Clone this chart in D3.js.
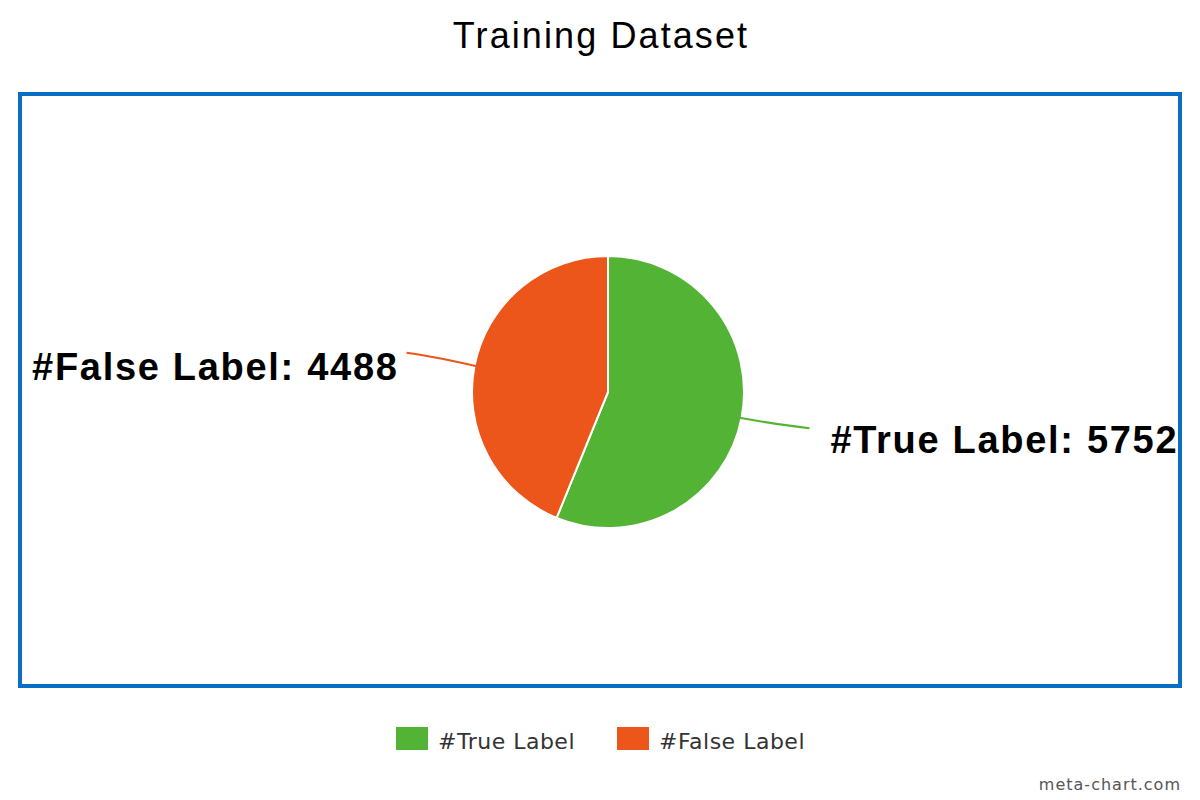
<!DOCTYPE html>
<html><head><meta charset="utf-8">
<script src="https://cdn.jsdelivr.net/npm/d3@7"></script>
<style>body{margin:0;background:#fff}svg{display:block}</style>
</head><body>
<script>
const categories = ["#True Label", "#False Label"];
const values = [5752, 4488];
const colors = ["#52b334", "#ec561b"];
const title = "Training Dataset";

const W = 1200, H = 800;
const svg = d3.select("body").append("svg").attr("width", W).attr("height", H);

svg.append("text").attr("x", 601).attr("y", 48).attr("text-anchor", "middle")
  .style("font-family", "Liberation Sans, Arial, sans-serif").style("font-size", "36px")
  .style("letter-spacing", "2.1px")
  .attr("fill", "#000").text(title);

svg.append("rect").attr("x", 20).attr("y", 94).attr("width", 1160).attr("height", 592)
  .attr("fill", "none").attr("stroke", "#0a6fc2").attr("stroke-width", 4);

const cx = 608, cy = 392, r = 136;
const data = categories.map((c, i) => ({cat: c, v: values[i], color: colors[i]}));
const pie = d3.pie().value(d => d.v).sort(null);
const arcs = pie(data);
const arc = d3.arc().innerRadius(0).outerRadius(r);
const g = svg.append("g").attr("transform", `translate(${cx},${cy})`);
g.selectAll("path.slice").data(arcs).join("path").attr("class", "slice")
  .attr("d", arc).attr("fill", d => d.data.color).attr("stroke", "#fff").attr("stroke-width", 2);

arcs.forEach((a) => {
  const m = (a.startAngle + a.endAngle) / 2;
  const sx = Math.sin(m), sy = -Math.cos(m);
  const p0 = [sx * (r - 2), sy * (r - 2)];
  const right = sx > 0;
  const p2 = [sx * r + (right ? 68 : -68), sy * r + (right ? 10 : -13)];
  const p1 = [sx * r + (right ? 40 : -40), sy * r + (right ? 7 : -9)];
  g.append("path")
    .attr("d", `M${p0[0]},${p0[1]} Q${p1[0]},${p1[1]} ${p2[0]},${p2[1]}`)
    .attr("fill", "none").attr("stroke", a.data.color).attr("stroke-width", 2);
  g.append("text")
    .attr("x", p2[0] + (right ? 21 : -8)).attr("y", p2[1] + (right ? 25 : 27))
    .attr("text-anchor", right ? "start" : "end")
    .style("font-family", "Liberation Sans, Arial, sans-serif").style("font-size", "38px")
    .style("letter-spacing", "1.7px")
    .style("font-weight", "bold").attr("fill", "#000")
    .text(`${a.data.cat}: ${a.data.v}`);
});

// legend
const legX = [396, 617];
data.forEach((d, i) => {
  svg.append("rect").attr("x", legX[i]).attr("y", 727).attr("width", 32).attr("height", 23).attr("fill", d.color);
  svg.append("text").attr("x", legX[i] + 42).attr("y", 749)
    .style("font-family", "DejaVu Sans, Verdana, sans-serif").style("font-size", "22px")
    .style("letter-spacing", "0.5px")
    .attr("fill", "#333").text(d.cat);
});

svg.append("text").attr("x", 1181).attr("y", 790).attr("text-anchor", "end")
  .style("font-family", "DejaVu Sans, Verdana, sans-serif").style("font-size", "16px")
  .style("letter-spacing", "1px")
  .attr("fill", "#555").text("meta-chart.com");
</script>
</body></html>
